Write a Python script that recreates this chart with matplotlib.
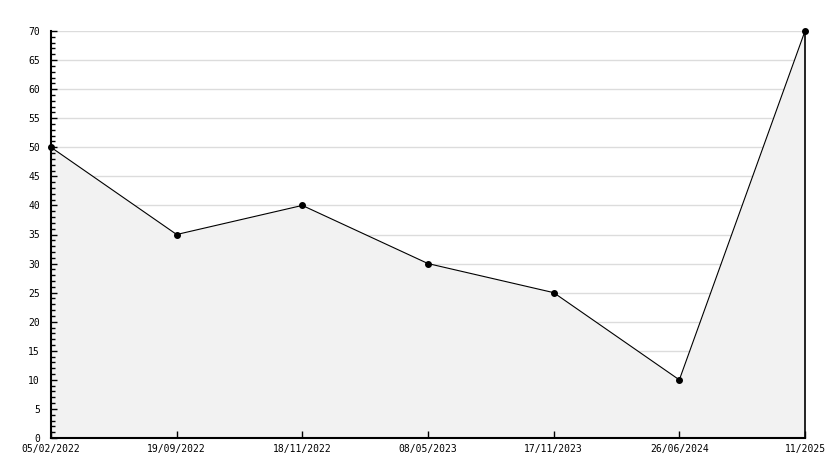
import matplotlib
matplotlib.use("Agg")
import matplotlib.pyplot as plt
import numpy as np
from matplotlib.ticker import MultipleLocator

dates = ["05/02/2022", "19/09/2022", "18/11/2022", "08/05/2023",
         "17/11/2023", "26/06/2024", "11/2025"]
values = [50, 35, 40, 30, 25, 10, 70]
y_max = 70
y_step = 5

fig = plt.figure(figsize=(8.34, 4.68), dpi=100)
ax = fig.add_axes([51/834, 1-438/468, (805-51)/834, (438-31)/468])
ax.set_axisbelow(False)

x = list(range(len(dates)))
ax.set_xlim(0, len(dates)-1)
ax.set_ylim(0, y_max)

grid_vals = np.arange(y_step, y_max + 0.1, y_step)
ax.hlines(grid_vals, 0, len(dates)-1, colors="#dcdcdc", linewidth=1, zorder=1)
ax.fill_between(x, values, 0, color="#f2f2f2", zorder=2, linewidth=0)
ax.plot(x, values, color="black", linewidth=0.8, marker="o", markersize=4,
        markerfacecolor="black", markeredgecolor="black", zorder=3,
        clip_on=False)

ax.yaxis.set_major_locator(MultipleLocator(y_step))
ax.yaxis.set_minor_locator(MultipleLocator(1))
ax.set_xticks(x)
ax.set_xticklabels(dates)

font = "DejaVu Sans Mono"
for lab in ax.get_xticklabels() + ax.get_yticklabels():
    lab.set_fontfamily(font)
    lab.set_fontsize(7)

ax.tick_params(axis="y", which="major", direction="in", length=4, width=1, pad=8)
ax.tick_params(axis="y", which="minor", direction="in", length=3, width=1)
ax.tick_params(axis="x", which="major", direction="in", length=5, width=1, pad=4)

ax.spines["top"].set_visible(False)
ax.spines["left"].set_linewidth(1.5)
ax.spines["bottom"].set_linewidth(1.5)
ax.spines["right"].set_linewidth(1.2)
for s in ["left", "bottom", "right"]:
    ax.spines[s].set_zorder(4)

fig.savefig("out.png", dpi=100)
